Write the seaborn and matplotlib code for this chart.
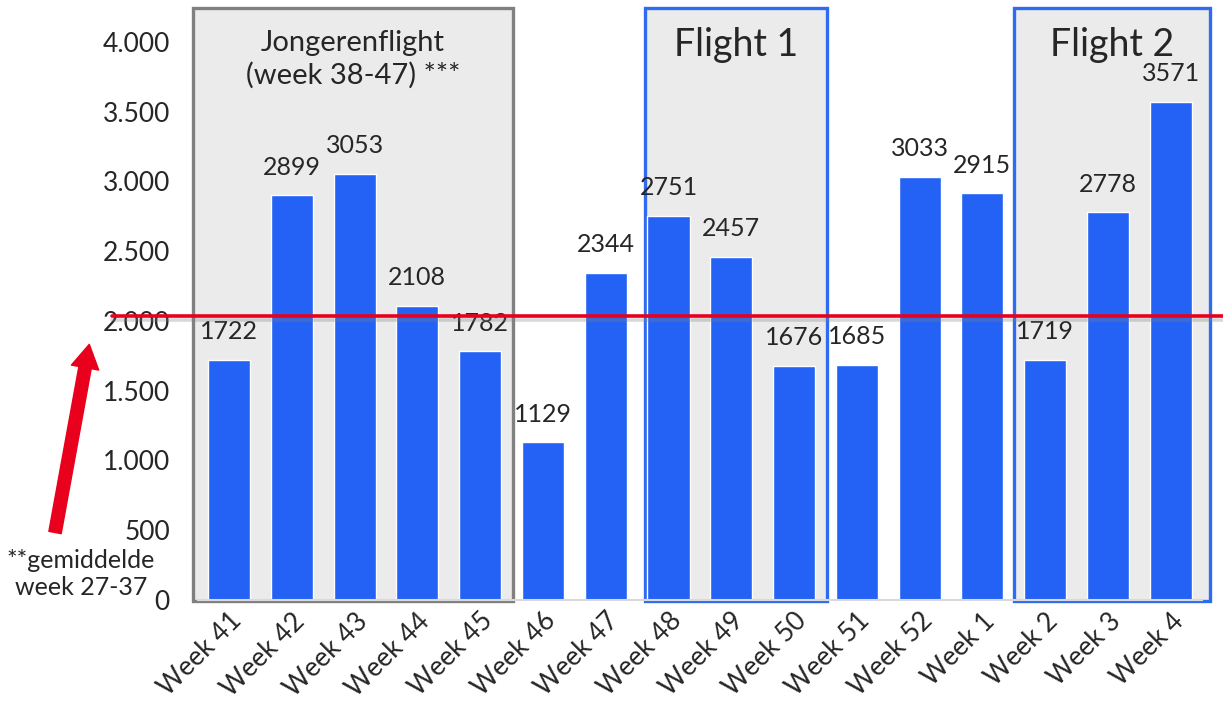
import numpy as np
import pandas as pd
import seaborn as sns
import matplotlib.pyplot as plt
import matplotlib.patheffects as pe
from matplotlib.patches import Rectangle
from matplotlib.ticker import FuncFormatter

# data
weeks = ['Week 41', 'Week 42', 'Week 43', 'Week 44', 'Week 45', 'Week 46', 'Week 47', 'Week 48',
         'Week 49', 'Week 50', 'Week 51', 'Week 52', 'Week 1', 'Week 2', 'Week 3', 'Week 4']
visits = [1722, 2899, 3053, 2108, 1782, 1129, 2344, 2751, 2457, 1676, 1685, 3033, 2915, 1719, 2778, 3571]
avg_week_27_37 = 2035
yticks = [0, 500, 1000, 1500, 2000, 2500, 3000, 3500, 4000]

# campaign periods (first / last bar index)
flight_names = ['Jongerenflight\n(week 38-47) ***', 'Flight 1', 'Flight 2']
flight_first = [0, 7, 13]
flight_last = [4, 9, 15]

bar_color = '#2462F5'
red = '#E8001C'

sns.set_style('white')
plt.rcParams['font.family'] = ['Lato', 'DejaVu Sans']

df = pd.DataFrame({'week': weeks, 'visits': visits})

fig = plt.figure(figsize=(12.23, 7.1), dpi=100)
ax = fig.add_axes([0.1616, 0.155, 0.8213, 0.845])

sns.barplot(data=df, x='week', y='visits', color=bar_color, width=0.67,
            saturation=1, ax=ax, zorder=2)
ax.bar_label(ax.containers[0], fontsize=18, padding=12)

ax.set_ylim(0, 4300)
ax.set_xlim(-0.5, 15.5)
ax.set_yticks(yticks)
ax.yaxis.set_major_formatter(FuncFormatter(lambda v, p: f'{int(v):,}'.replace(',', '.')))
ax.tick_params(axis='y', labelsize=19, length=0, pad=20)
ax.tick_params(axis='x', labelsize=19, length=0, pad=6)
plt.setp(ax.get_xticklabels(), rotation=45, ha='right', va='top', rotation_mode='anchor')
ax.set_xlabel('')
ax.set_ylabel('')

for side in ['left', 'right', 'top']:
    ax.spines[side].set_visible(False)
ax.spines['bottom'].set_color('#D9D9D9')
ax.spines['bottom'].set_linewidth(1.5)

# shaded boxes for the flights
box_styles = [
    dict(left=0.57, right=0.52, edge='#808080', fs=21, ty=3875),
    dict(left=0.38, right=0.52, edge='#2F6BF0', fs=27, ty=3978),
    dict(left=0.50, right=0.62, edge='#2F6BF0', fs=27, ty=3975),
]
for name, i0, i1, st in zip(flight_names, flight_first, flight_last, box_styles):
    x0 = i0 - st['left']
    x1 = i1 + st['right']
    ax.add_patch(Rectangle((x0, -8), x1 - x0, 4252, facecolor='#EBEBEB', edgecolor=st['edge'],
                           linewidth=2.4, zorder=0.5, clip_on=False))
    ax.text((x0 + x1) / 2, st['ty'], name, ha='center', va='center', fontsize=st['fs'],
            linespacing=1.25, zorder=3)

# average line
ax.axhline(avg_week_27_37, xmin=-0.085, xmax=1.03, color=red, linewidth=2.6, zorder=4,
           clip_on=False,
           path_effects=[pe.SimpleLineShadow(offset=(0, -3), shadow_color='gray', alpha=0.3),
                         pe.Normal()])

# arrow with note
ax.annotate('', xy=(0.073, 0.515), xytext=(0.045, 0.25), xycoords='figure fraction',
            textcoords='figure fraction', annotation_clip=False,
            arrowprops=dict(facecolor=red, edgecolor=red, width=9, headwidth=20, headlength=17))
fig.text(0.066, 0.192, '**gemiddelde\nweek 27-37', ha='center', va='center', fontsize=18,
         linespacing=1.2)

plt.savefig('out.png', dpi=100)
plt.close()
